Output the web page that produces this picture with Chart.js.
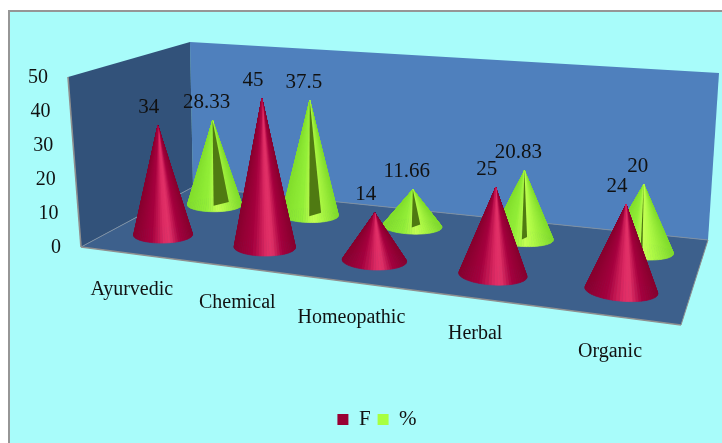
<!DOCTYPE html>
<html>
<head>
<meta charset="utf-8">
<style>
  html, body { margin: 0; padding: 0; background: #fff; }
  canvas { display: block; }
</style>
<script src="https://cdn.jsdelivr.net/npm/chart.js@4/dist/chart.umd.min.js"></script>
</head>
<body>
<canvas id="coneChart" width="722" height="443"></canvas>
<script>
const categories = ["Ayurvedic", "Chemical", "Homeopathic", "Herbal", "Organic"];
const valuesF = [34, 45, 14, 25, 24];
const valuesPct = [28.33, 37.5, 11.66, 20.83, 20];
const yTickStep = 10;
const yMax = 50;

// --- 3D box corners on the page ---
const FL = [81, 247], FR = [681, 325], BR = [708, 240], BL = [193, 187];
// wall height vector at each floor corner (for the full axis height)
const upFL = [-13, -170], upFR = [14, -195], upBR = [11, -167], upBL = [-3, -145];
const seriesDepth = [0.27, 0.76];
const labelShift = [-9, -6];
const depthRatio = 2.1; // base circle looks deeper than wide on the floor
const tipScale = 0.965; // cone tips stop a little short of the wall scale

// floor homography, unit square -> quad
const dx1 = FR[0] - BR[0], dx2 = BL[0] - BR[0], dx3 = FL[0] - FR[0] + BR[0] - BL[0];
const dy1 = FR[1] - BR[1], dy2 = BL[1] - BR[1], dy3 = FL[1] - FR[1] + BR[1] - BL[1];
const den = dx1 * dy2 - dx2 * dy1;
const hg = (dx3 * dy2 - dx2 * dy3) / den;
const hh = (dx1 * dy3 - dx3 * dy1) / den;
const ha = FR[0] - FL[0] + hg * FR[0], hb = BL[0] - FL[0] + hh * BL[0];
const hd = FR[1] - FL[1] + hg * FR[1], he = BL[1] - FL[1] + hh * BL[1];

function project(u, d, h) {
  const w = hg * u + hh * d + 1;
  const x = (ha * u + hb * d + FL[0]) / w;
  const y = (hd * u + he * d + FL[1]) / w;
  const mix = (i) =>
    upFL[i] * (1 - u) * (1 - d) + upFR[i] * u * (1 - d) + upBR[i] * u * d + upBL[i] * (1 - u) * d;
  return [x + mix(0) * h, y + mix(1) * h];
}

function polygon(ctx, pts, fill) {
  ctx.beginPath();
  pts.forEach((p, i) => (i ? ctx.lineTo(p[0], p[1]) : ctx.moveTo(p[0], p[1])));
  ctx.closePath();
  ctx.fillStyle = fill;
  ctx.fill();
}

function line(ctx, a, b, color, width) {
  ctx.beginPath();
  ctx.moveTo(a[0], a[1]);
  ctx.lineTo(b[0], b[1]);
  ctx.strokeStyle = color;
  ctx.lineWidth = width;
  ctx.stroke();
}

// --- cone shading: dark edges, light stripe a bit right of the middle ---
const shadeStops = [
  [[0, 135, 0, 46], [0.3, 165, 0, 62], [0.52, 222, 44, 100], [0.62, 226, 50, 104], [0.78, 165, 0, 62], [1, 135, 0, 46]],
  [[0, 130, 222, 44], [0.35, 146, 238, 56], [0.55, 196, 255, 84], [0.68, 176, 250, 70], [1, 128, 220, 44]],
];

function shade(index, t) {
  const stops = shadeStops[index];
  for (let i = 1; i < stops.length; i++) {
    if (t <= stops[i][0]) {
      const a = stops[i - 1], b = stops[i];
      const k = (t - a[0]) / (b[0] - a[0]);
      return `rgb(${[1, 2, 3].map((c) => Math.round(a[c] + (b[c] - a[c]) * k)).join(",")})`;
    }
  }
  return "#000";
}

class ConeController extends Chart.BarController {
  static id = "cone";

  draw() {
    const ctx = this.chart.ctx;
    const area = this.chart.chartArea;
    const meta = this._cachedMeta;
    const index = meta.index;
    const d0 = seriesDepth[index];
    meta.data.forEach((el) => {
      const u0 = (el.x - area.left) / area.width;
      const ru = el.width / area.width / 2;
      const h = (el.base - el.y) / area.height;
      const tip = project(u0, d0, h * tipScale);
      const pts = [];
      for (let i = 0; i < 72; i++) {
        const a = (i / 72) * Math.PI * 2;
        const s = Math.sin(a);
        pts.push({ s, p: project(u0 + ru * Math.cos(a), d0 + ru * depthRatio * s, 0) });
      }
      const xs = pts.map((q) => q.p[0]);
      const minX = Math.min(...xs), maxX = Math.max(...xs);
      // back to front so the near side of the cone stays on top
      const segs = pts.map((q, i) => ({ a: q.p, b: pts[(i + 1) % 72].p, s: q.s }));
      segs.sort((m, n) => n.s - m.s);
      ctx.save();
      ctx.lineWidth = 0.7;
      segs.forEach((seg) => {
        const t = ((seg.a[0] + seg.b[0]) / 2 - minX) / (maxX - minX);
        const col = shade(index, t);
        ctx.strokeStyle = col;
        polygon(ctx, [tip, seg.a, seg.b], col);
        ctx.stroke();
      });
      // dark slit seen on the % cones
      if (index === 1) {
        const b1 = project(u0 + 0.002, d0 - 0.02, 0);
        const b2 = project(u0 + 0.002 + 0.0175 * (1 - u0), d0 + 0.07 * (1 - u0), 0);
        polygon(ctx, [tip, b1, b2], "#4f7a12");
      }
      ctx.restore();
    });
  }
}
Chart.register(ConeController);

const box3d = {
  id: "box3d",
  beforeDraw(chart) {
    const ctx = chart.ctx;
    // frame and chart background
    ctx.fillStyle = "#ffffff";
    ctx.fillRect(0, 0, 722, 443);
    ctx.fillStyle = "#a8fcfa";
    ctx.fillRect(9, 11, 713, 432);
    ctx.fillStyle = "#969696";
    ctx.fillRect(8, 10, 714, 2);
    ctx.fillRect(8, 10, 2, 433);

    const tFL = project(0, 0, 1), tBL = project(0, 1, 1), tBR = project(1, 1, 1);
    polygon(ctx, [BL, BR, tBR, tBL], "#4f80bd");
    polygon(ctx, [FL, BL, tBL, tFL], "#32527a");
    polygon(ctx, [FL, FR, BR, BL], "#3d608c");
    line(ctx, BL, BR, "#7f8fa3", 1);
    line(ctx, BL, FL, "#7f8fa3", 1);
    line(ctx, FL, FR, "#8f8f8f", 1.6);
    line(ctx, FR, BR, "#8f8f8f", 1);
    line(ctx, FL, tFL, "#8f8f8f", 1.6);
  },
  afterDatasetsDraw(chart) {
    const ctx = chart.ctx;
    const area = chart.chartArea;
    const xScale = chart.scales.x, yScale = chart.scales.y;
    ctx.save();
    ctx.fillStyle = "#111";
    ctx.textBaseline = "middle";

    // value axis
    ctx.font = '20px "Liberation Serif"';
    ctx.textAlign = "right";
    yScale.ticks.forEach((tick) => {
      const p = project(0, 0, (tick.value - yScale.min) / (yScale.max - yScale.min));
      ctx.fillText(String(tick.value), p[0] - 20, p[1] + 1);
    });

    // category axis
    ctx.font = '20px "Liberation Serif"';
    ctx.textAlign = "center";
    categories.forEach((name, i) => {
      const u = (xScale.getPixelForValue(i) - area.left) / area.width;
      const p = project(u, 0, 0);
      ctx.fillText(name, p[0] + 1, p[1] + 36);
    });

    // value labels above the tips
    ctx.font = '21px "Liberation Serif"';
    chart.data.datasets.forEach((ds, index) => {
      chart.getDatasetMeta(index).data.forEach((el, i) => {
        const u = (el.x - area.left) / area.width;
        const h = (el.base - el.y) / area.height;
        const tip = project(u, seriesDepth[index], h * tipScale);
        ctx.fillText(String(ds.data[i]), tip[0] + labelShift[index], tip[1] - 18);
      });
    });
    ctx.restore();
  },
};

new Chart(document.getElementById("coneChart"), {
  type: "cone",
  data: {
    labels: categories,
    datasets: [
      { label: "F", data: valuesF, backgroundColor: "#990033" },
      { label: "%", data: valuesPct, backgroundColor: "#a8ff40" },
    ],
  },
  options: {
    responsive: false,
    animation: false,
    grouped: false,
    barPercentage: 0.54,
    categoryPercentage: 1,
    layout: { padding: { left: 32, bottom: 3 } },
    plugins: {
      legend: {
        position: "bottom",
        labels: {
          boxWidth: 11,
          boxHeight: 11,
          padding: 7,
          color: "#111",
          font: { family: "Liberation Serif", size: 21 },
        },
      },
      tooltip: { enabled: false },
    },
    scales: {
      x: { type: "category", offset: true, display: false },
      y: { type: "linear", min: 0, max: yMax, display: false, ticks: { stepSize: yTickStep } },
    },
  },
  plugins: [box3d],
});
</script>
</body>
</html>
